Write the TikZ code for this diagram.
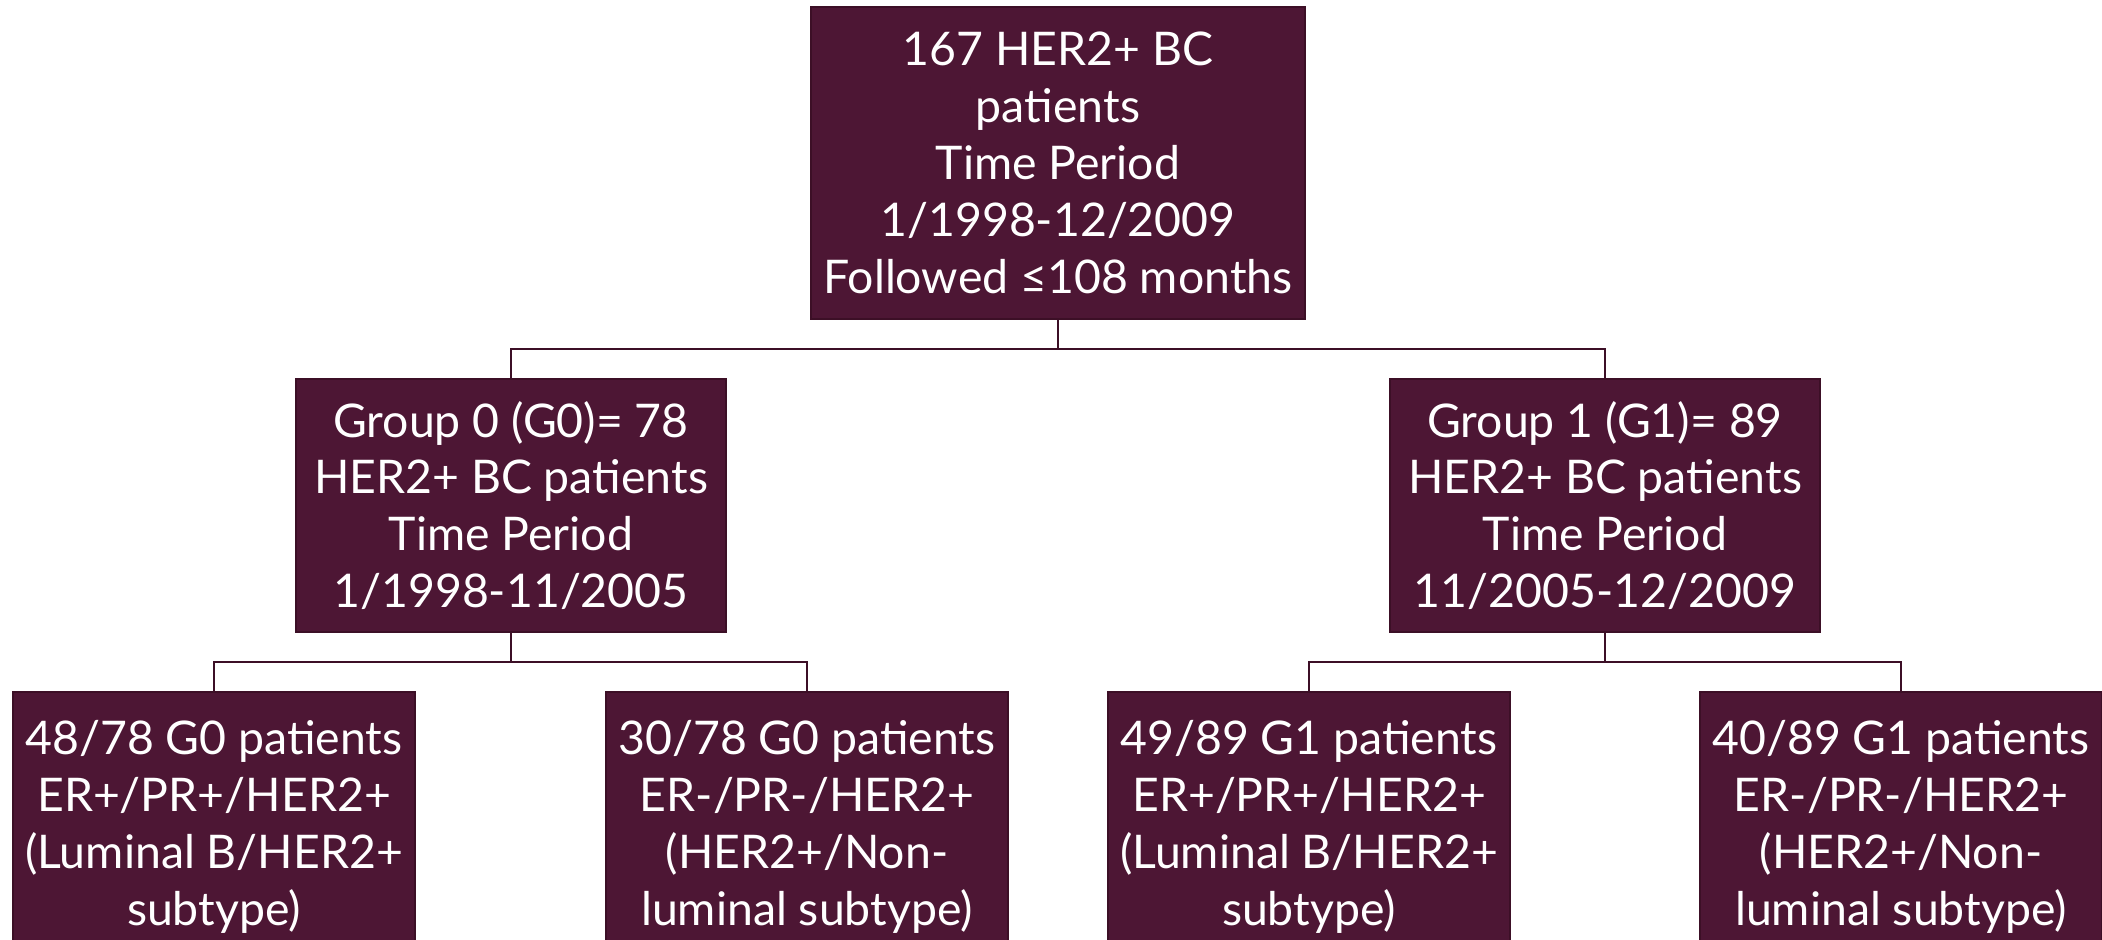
\documentclass[tikz,border=0pt]{standalone}
\usepackage{fontspec}
\setmainfont{Lato}
\usetikzlibrary{positioning}
\definecolor{boxfill}{RGB}{77,22,52}
\definecolor{boxedge}{RGB}{60,15,38}

\begin{document}
\begin{tikzpicture}[font=\fontsize{33pt}{40.5pt}\selectfont, every text node part/.style={align=center},
    box/.style={fill=boxfill, draw=boxedge, line width=2pt, text=white, inner sep=0pt},
    link/.style={draw=boxedge, line width=1.3pt}]

	\useasboundingbox (0,0) rectangle (52.55,-23.5);
	\clip (0,0) rectangle (52.55,-23.5);

	\node (all) at (26.45,-4.075) [box, minimum width=12.35cm, minimum height=7.8cm] {167 HER2+ BC\\patients\\Time Period\\1/1998-12/2009\\Followed ≤108 months};

	\node (g0) at (12.775,-12.6375) [box, minimum width=10.75cm, minimum height=6.325cm] {Group 0 (G0)= 78\\HER2+ BC patients\\Time Period\\1/1998-11/2005};
	\node (g1) at (40.125,-12.6375) [box, minimum width=10.75cm, minimum height=6.325cm] {Group 1 (G1)= 89\\HER2+ BC patients\\Time Period\\11/2005-12/2009};

	\node (g0lum) at (5.35,-20.675) [box, minimum width=10.05cm, minimum height=6.75cm] {48/78 G0 patients\\ER+/PR+/HER2+\\(Luminal B/HER2+\\subtype)};
	\node (g0non) at (20.175,-20.675) [box, minimum width=10.05cm, minimum height=6.75cm] {30/78 G0 patients\\ER-/PR-/HER2+\\(HER2+/Non-\\luminal subtype)};
	\node (g1lum) at (32.725,-20.675) [box, minimum width=10.05cm, minimum height=6.75cm] {49/89 G1 patients\\ER+/PR+/HER2+\\(Luminal B/HER2+\\subtype)};
	\node (g1non) at (47.525,-20.675) [box, minimum width=10.05cm, minimum height=6.75cm] {40/89 G1 patients\\ER-/PR-/HER2+\\(HER2+/Non-\\luminal subtype)};

	\coordinate (split) at (26.45,-8.725);
	\coordinate (g0split) at (12.775,-16.55);
	\coordinate (g1split) at (40.125,-16.55);

	\draw[link] (all.south) -- (split);
	\draw[link] (g0.north) |- (split) -| (g1.north);
	\draw[link] (g0.south) -- (g0split);
	\draw[link] (g0lum.north) |- (g0split) -| (g0non.north);
	\draw[link] (g1.south) -- (g1split);
	\draw[link] (g1lum.north) |- (g1split) -| (g1non.north);

\end{tikzpicture}
\end{document}
